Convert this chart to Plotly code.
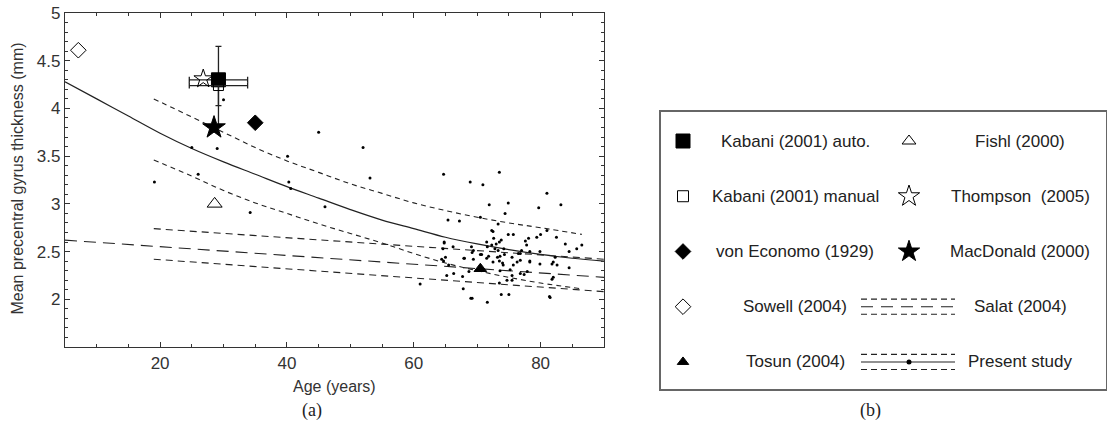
import plotly.graph_objects as go

W, H = 1107, 438

# ---------------- data ----------------
fit_ages = [5, 10, 15, 20, 25, 30, 35, 40, 45, 50, 55, 60, 65, 70, 75, 80, 85, 90]
present_mean = [4.28, 4.10, 3.92, 3.74, 3.58, 3.44, 3.31, 3.18, 3.06, 2.94, 2.83, 2.74,
                2.65, 2.58, 2.52, 2.47, 2.43, 2.40]
band_ages = [19, 25, 30, 35, 40, 45, 50, 55, 60, 65, 70, 75, 80, 86.5]
present_upper = [4.10, 3.91, 3.75, 3.59, 3.45, 3.33, 3.21, 3.11, 3.01, 2.93, 2.86, 2.80, 2.75, 2.68]
present_lower = [3.46, 3.29, 3.14, 3.01, 2.90, 2.79, 2.69, 2.59, 2.48, 2.38, 2.30, 2.23, 2.17, 2.11]

salat_band_ages = [19, 90]
salat_upper = [2.74, 2.42]
salat_lower = [2.42, 2.08]
salat_mid_ages = [5, 90]
salat_mid = [2.62, 2.23]

dot_ages = [19.1, 25.0, 26.0, 29.0, 30.0, 34.2, 40.1, 40.3, 40.6, 45.0, 46.0, 52.0, 53.1, 61.0,
            64.7, 64.4, 65.0, 64.8, 65.4, 65.5, 65.2, 66.2, 67.2, 67.7, 67.8, 68.0, 68.9, 69.0,
            69.1, 69.4, 69.4, 70.5, 70.7, 70.9, 71.5, 71.6, 71.6, 71.8, 71.9, 72.3, 72.5, 72.5,
            72.6, 73.2, 73.3, 73.3, 73.5, 73.5, 73.5, 73.6, 73.6, 73.8, 74.1, 74.2, 74.4, 74.7,
            74.9, 74.9, 75.0, 75.2, 75.5, 75.7, 75.7, 76.5, 76.8, 77.0, 77.4, 77.6, 77.8, 78.1,
            78.3, 78.3, 79.4, 79.7, 79.9, 80.0, 81.0, 81.0, 81.4, 81.8, 81.8, 82.0, 82.3, 82.5,
            83.2, 83.9, 84.5, 84.5, 85.7, 86.5,
            72.3, 73.0, 73.8, 72.8, 74.3, 73.5, 74.0, 71.5, 70.5, 69.2, 67.9, 64.8, 64.6, 64.7,
            75.5, 76.8, 76.3, 78.3, 79.9, 82.0, 82.6, 81.5, 69.2, 75.5, 76.8, 77.9, 68.7, 66.3]
dot_thick = [3.23, 3.59, 3.31, 3.58, 4.09, 2.91, 3.50, 3.23, 3.16, 3.75, 2.97, 3.59, 3.27, 2.16,
             3.31, 2.42, 2.44, 2.60, 2.83, 2.36, 2.25, 2.55, 2.82, 2.24, 2.11, 2.43, 3.23, 2.01,
             2.55, 2.51, 2.42, 2.86, 2.47, 3.20, 2.60, 2.55, 1.97, 2.45, 2.99, 2.72, 2.71, 2.39,
             2.64, 2.44, 2.79, 2.51, 3.33, 2.60, 2.17, 2.30, 2.45, 2.05, 2.36, 2.53, 2.90, 2.20,
             3.01, 2.68, 2.05, 2.31, 2.25, 2.68, 2.36, 2.48, 2.41, 2.51, 2.26, 2.61, 2.57, 2.64,
             2.50, 2.40, 2.65, 2.96, 2.50, 2.68, 3.11, 2.72, 2.03, 2.37, 2.21, 2.23, 2.44, 2.65,
             2.99, 2.58, 2.50, 2.33, 2.53, 2.57,
             2.57, 2.58, 2.62, 2.53, 2.47, 2.40, 2.38, 2.43, 2.47, 2.49, 2.43, 2.59, 2.53, 2.40,
             2.44, 2.48, 2.39, 2.39, 2.37, 2.39, 2.36, 2.02, 2.01, 2.20, 2.27, 2.29, 2.29, 2.27]

study_names = ["Kabani (2001) auto.", "Kabani (2001) manual", "von Economo (1929)",
               "Sowell (2004)", "Tosun (2004)", "Fishl (2000)", "Thompson\u00a0 (2005)",
               "MacDonald (2000)"]
study_ages = [29.2, 29.2, 35.0, 7.1, 70.5, 28.6, 26.8, 28.5]
study_thick = [4.30, 4.24, 3.85, 4.61, 2.32, 3.00, 4.31, 3.80]
kabani_age_sd = 4.6
kabani_auto_err_up = 0.35
kabani_auto_err_down = 0.27
kabani_manual_err_down = 0.44

other_names = ["Salat (2004)", "Present study"]
x_title = "Age (years)"
y_title = "Mean precentral gyrus thickness (mm)"

# ---------------- styles ----------------
study_symbols = ["square", "square-open", "diamond", "diamond-open", "triangle-up",
                 "triangle-up-open", "star-open", "star"]
study_sizes = [14, 10, 12, 12, 11, 13, 14, 17]
legend_sizes = [14, 11, 12, 12, 10, 12, 16, 16]

LINE = "#222222"
FONT = "Liberation Sans, Arial, sans-serif"

fig = go.Figure()

# fitted curves
fig.add_trace(go.Scatter(x=salat_mid_ages, y=salat_mid, mode="lines",
                         line=dict(color=LINE, width=1.1, dash="12px,7px")))
fig.add_trace(go.Scatter(x=salat_band_ages, y=salat_upper, mode="lines",
                         line=dict(color=LINE, width=1.1, dash="7px,5px")))
fig.add_trace(go.Scatter(x=salat_band_ages, y=salat_lower, mode="lines",
                         line=dict(color=LINE, width=1.1, dash="7px,5px")))
fig.add_trace(go.Scatter(x=band_ages, y=present_upper, mode="lines",
                         line=dict(color=LINE, width=1.1, dash="5px,4px", shape="spline")))
fig.add_trace(go.Scatter(x=band_ages, y=present_lower, mode="lines",
                         line=dict(color=LINE, width=1.1, dash="5px,4px", shape="spline")))
fig.add_trace(go.Scatter(x=fit_ages, y=present_mean, mode="lines",
                         line=dict(color=LINE, width=1.2, shape="spline")))

# individual subjects
fig.add_trace(go.Scatter(x=dot_ages, y=dot_thick, mode="markers",
                         marker=dict(color="black", size=3, symbol="circle", line=dict(width=0))))

# literature values
for i, name in enumerate(study_names):
    kw = {}
    if i == 0:
        kw["error_x"] = dict(type="constant", value=kabani_age_sd, color=LINE, thickness=1.3, width=3)
        kw["error_y"] = dict(type="data", array=[kabani_auto_err_up], arrayminus=[kabani_auto_err_down],
                             symmetric=False, color=LINE, thickness=1.3, width=3)
    if i == 1:
        kw["error_x"] = dict(type="constant", value=kabani_age_sd, color=LINE, thickness=1.3, width=3)
        kw["error_y"] = dict(type="data", array=[0], arrayminus=[kabani_manual_err_down],
                             symmetric=False, color=LINE, thickness=1.3, width=0)
    fig.add_trace(go.Scatter(x=[study_ages[i]], y=[study_thick[i]], mode="markers", name=name,
                             marker=dict(symbol=study_symbols[i], size=study_sizes[i], color="black",
                                         line=dict(color="black", width=1)), **kw))

# ---------------- legend panel (b) ----------------
leg_col_sym = [22, 248]
leg_col_text = [134, 359]
leg_line_x = [200, 294]
leg_line_dy = 0.137

left_entries = study_names[:5]
right_entries = study_names[5:] + other_names
for r, name in enumerate(left_entries):
    i = r
    fig.add_trace(go.Scatter(x=[leg_col_sym[0]], y=[r], mode="markers", xaxis="x2", yaxis="y2",
                             marker=dict(symbol=study_symbols[i], size=legend_sizes[i], color="black",
                                         line=dict(color="black", width=1))))
    fig.add_annotation(x=leg_col_text[0], y=r, xref="x2", yref="y2", text=name, showarrow=False,
                       xanchor="center", yanchor="middle", font=dict(family=FONT, size=17, color="#222"))
for r, name in enumerate(right_entries):
    if r < 3:
        i = 5 + r
        fig.add_trace(go.Scatter(x=[leg_col_sym[1]], y=[r], mode="markers", xaxis="x2", yaxis="y2",
                                 marker=dict(symbol=study_symbols[i], size=legend_sizes[i], color="black",
                                             line=dict(color="black", width=1))))
    fig.add_annotation(x=leg_col_text[1], y=r, xref="x2", yref="y2", text=name, showarrow=False,
                       xanchor="center", yanchor="middle", font=dict(family=FONT, size=17, color="#222"))

# Salat sample (row 3)
for dy, dash in [(-leg_line_dy, "6px,4px"), (0, "12px,8px"), (leg_line_dy, "6px,4px")]:
    fig.add_trace(go.Scatter(x=leg_line_x, y=[3 + dy, 3 + dy], mode="lines", xaxis="x2", yaxis="y2",
                             line=dict(color=LINE, width=1.1, dash=dash)))
# Present study sample (row 4)
for dy, dash in [(-leg_line_dy, "6px,4px"), (0, "solid"), (leg_line_dy, "6px,4px")]:
    fig.add_trace(go.Scatter(x=leg_line_x, y=[4 + dy, 4 + dy], mode="lines", xaxis="x2", yaxis="y2",
                             line=dict(color=LINE, width=1.1, dash=dash)))
fig.add_trace(go.Scatter(x=[leg_col_sym[1]], y=[4], mode="markers", xaxis="x2", yaxis="y2",
                         marker=dict(symbol="circle", size=5, color="black")))

# ---------------- layout ----------------
axis_common = dict(showline=True, linecolor="#333333", linewidth=1.3, mirror="allticks",
                   ticks="inside", ticklen=5, tickwidth=1, tickcolor="#333333",
                   showgrid=False, zeroline=False, automargin=False,
                   tickfont=dict(family=FONT, size=17, color="#333333"))

fig.update_layout(
    width=W, height=H, margin=dict(l=0, r=0, t=0, b=0, pad=0, autoexpand=False),
    paper_bgcolor="white", plot_bgcolor="white", showlegend=False,
    xaxis=dict(domain=[65 / W, 604 / W], range=[5, 90], tick0=0, dtick=20,
               minor=dict(dtick=5, tick0=0, ticks="inside", ticklen=3, tickcolor="#333333"),
               **axis_common),
    yaxis=dict(domain=[(H - 347) / H, (H - 13) / H], range=[1.5, 5],
               tickvals=[2, 2.5, 3, 3.5, 4, 4.5, 5], ticktext=["2", "2.5", "3", "3.5", "4", "4.5", "5"],
               minor=dict(dtick=0.1, tick0=0, ticks="inside", ticklen=3, tickcolor="#333333"),
               **axis_common),
    xaxis2=dict(domain=[661 / W, 1106 / W], range=[0, 445], anchor="y2", showline=True, mirror=True,
                linecolor="#666666", linewidth=1.5, showticklabels=False, ticks="", showgrid=False,
                zeroline=False, automargin=False),
    yaxis2=dict(domain=[(H - 389) / H, (H - 112) / H], range=[4.49, -0.525], anchor="x2",
                showline=True, mirror=True, linecolor="#666666", linewidth=1.5,
                showticklabels=False, ticks="", showgrid=False, zeroline=False, automargin=False),
)

fig.add_annotation(x=334.5 / W, y=1 - 386 / H, xref="paper", yref="paper", text=x_title,
                   showarrow=False, xanchor="center", yanchor="middle",
                   font=dict(family=FONT, size=16, color="#333333"))
fig.add_annotation(x=17 / W, y=1 - 178.5 / H, xref="paper", yref="paper", text=y_title,
                   showarrow=False, textangle=-90, xanchor="center", yanchor="middle",
                   font=dict(family=FONT, size=16, color="#333333"))
fig.add_annotation(x=300 / W, y=1 - 423 / H, xref="paper", yref="paper", text="(a)", showarrow=False,
                   font=dict(family="Liberation Serif, serif", size=18, color="#222"))
fig.add_annotation(x=883 / W, y=1 - 423 / H, xref="paper", yref="paper", text="(b)", showarrow=False,
                   font=dict(family="Liberation Serif, serif", size=18, color="#222"))

fig.write_html("out.html", config={"displayModeBar": False},
               post_script="document.body.style.margin='0';document.body.style.overflow='hidden';")
